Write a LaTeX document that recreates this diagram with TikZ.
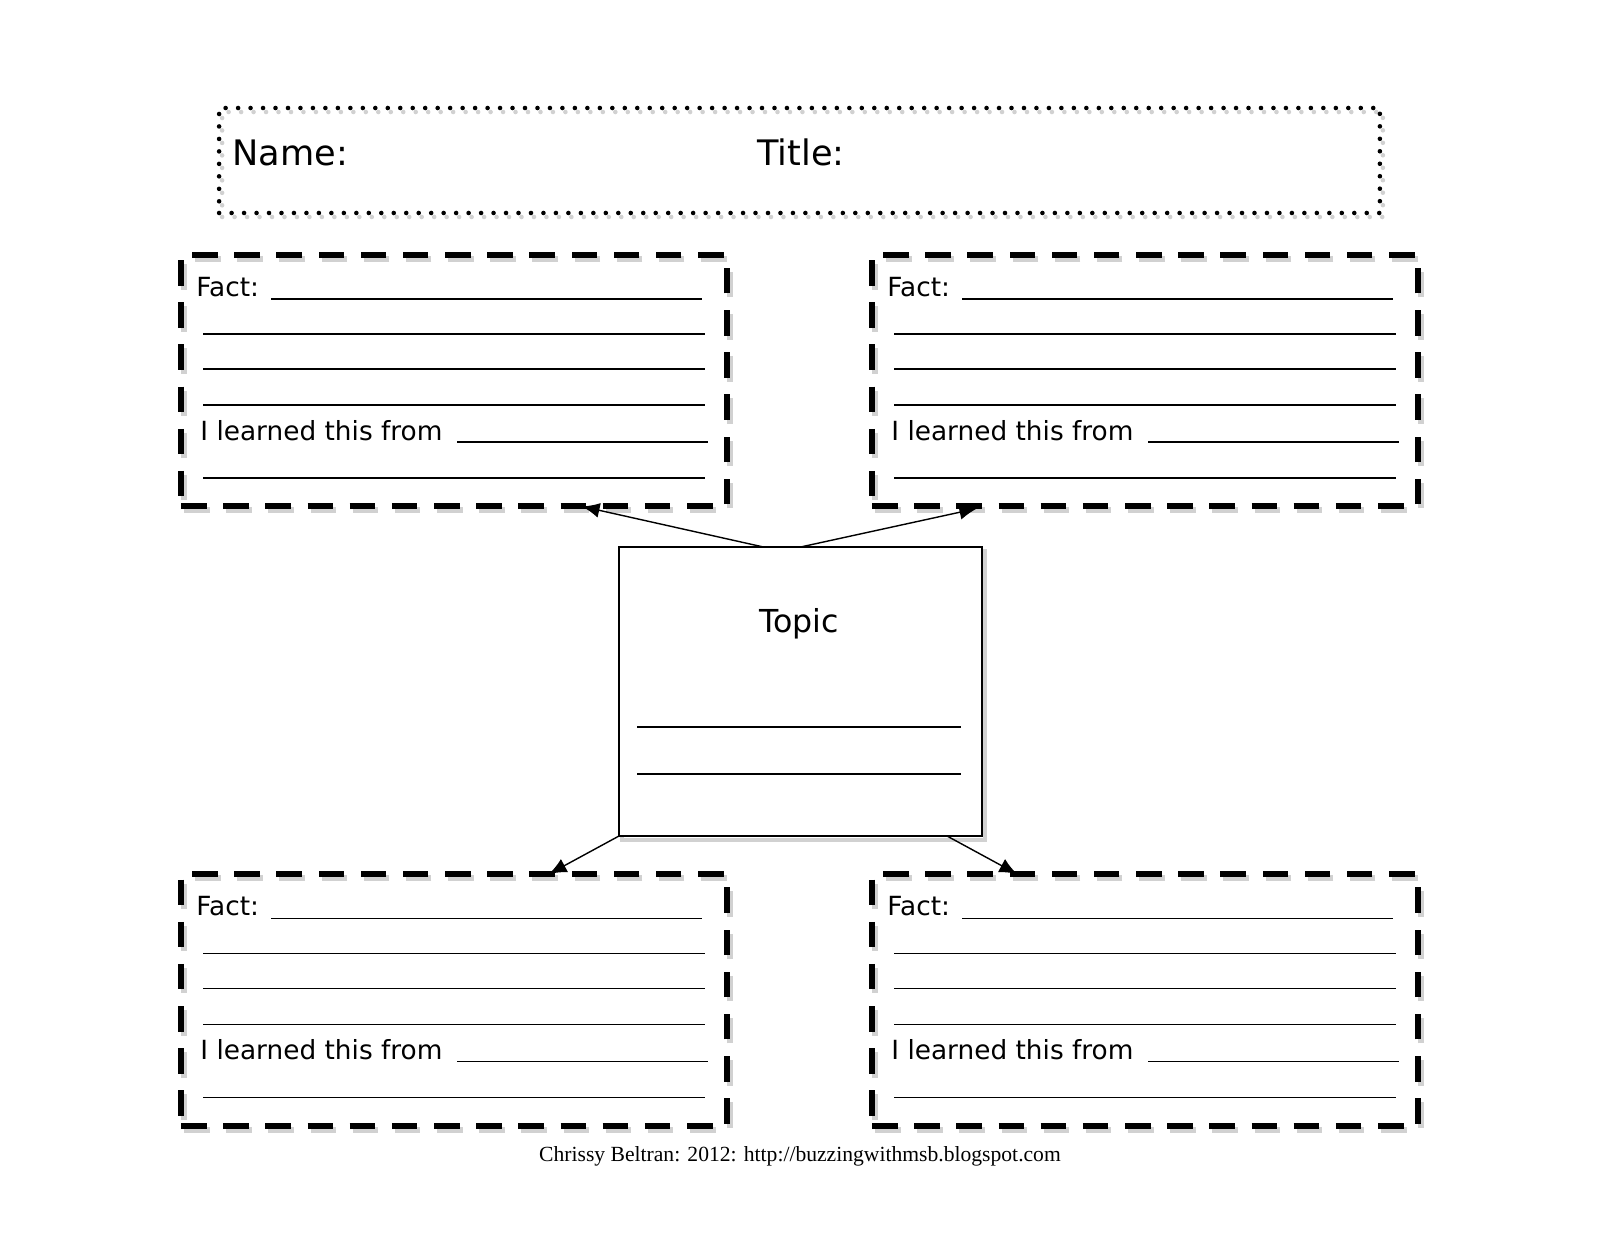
\documentclass[tikz,border=0pt]{standalone}
\usepackage{fontspec}
\setmainfont{DejaVu Sans}
\newfontfamily\creditfont{Liberation Serif}
\usetikzlibrary{arrows.meta}
\usetikzlibrary{calc}

\tikzset{
  factbox/.style={draw, line width=3.4pt, dash pattern=on 14.5pt off 9.5pt,
    minimum width=10.92cm, minimum height=5.04cm, inner sep=0pt, outer sep=0pt},
  namebox/.style={draw, line width=2.6pt, line cap=round, dash pattern=on 0pt off 7.1pt,
    minimum width=23.22cm, minimum height=2.1cm, inner sep=0pt, outer sep=0pt},
  topicbox/.style={draw, line width=1.2pt, minimum width=7.26cm, minimum height=5.78cm,
    inner sep=0pt, outer sep=0pt},
  shade/.style={draw=black!18},
  ruled/.style={line width=0.9pt},
  facttext/.style={anchor=base west, inner sep=0pt, font=\fontsize{15}{18}\selectfont},
  link/.style={->, >={Latex[length=10pt,width=8.5pt]}, line width=0.8pt},
}

\begin{document}
\begin{tikzpicture}[x=0.02cm, y=-0.02cm]
    \useasboundingbox (0,0) rectangle (1600,1236);
    % Name / Title
    \node[namebox, shade] (nameshade) at (802.5,164.5) {};
    \node[namebox] (namebar) at (799.5,160.5) {};
    \node[anchor=base west, inner sep=0pt, font=\fontsize{20}{24}\selectfont] (name) at (232,166) {Name:};
    \node[anchor=base west, inner sep=0pt, font=\fontsize{20}{24}\selectfont] (title) at (757,166) {Title:};
    % the four fact boxes
    \foreach \n/\cx/\cy in {1/454/380.5, 2/1145/380.5, 3/454/1000, 4/1145/1000}{
      \node[factbox, shade] (shade\n) at (\cx+3,\cy+4) {};
      \node[factbox] (fact\n) at (\cx,\cy) {};
      \node[facttext] (fact\n-lbl) at ($(fact\n.north west)+(15,41.5)$) {Fact:};
      \draw[ruled] ($(fact\n.north west)+(90,44.5)$) -- +(431,0);
      \draw[ruled] ($(fact\n.north west)+(22,79.5)$) -- +(502,0);
      \draw[ruled] ($(fact\n.north west)+(22,114.5)$) -- +(502,0);
      \draw[ruled] ($(fact\n.north west)+(22,150.5)$) -- +(502,0);
      \node[facttext] (fact\n-src) at ($(fact\n.north west)+(19,185.5)$) {I learned this from};
      \draw[ruled] ($(fact\n.north west)+(276,187.5)$) -- +(251,0);
      \draw[ruled] ($(fact\n.north west)+(22,223.5)$) -- +(502,0);
    }
    % Topic
    \node[topicbox, draw=black!18, line width=2pt] (topicshade) at (803.5,695.5) {};
    \node[topicbox, fill=white] (topic) at (800.5,691.5) {};
    \node[anchor=base, inner sep=0pt, font=\fontsize{18}{22}\selectfont] (topiclbl) at (799,633) {Topic};
    \draw[line width=1.6pt] ($(topic.north west)+(18,180)$) -- +(324,0);
    \draw[line width=1.6pt] ($(topic.north west)+(18,227)$) -- +(324,0);
    % arrows out of the topic
    \draw[link] ($(topic.north)+(-37,0)$) -- ($(fact1.south)+(128,0)$);
    \draw[link] (topic.north) -- ($(fact2.south)+(-168,2)$);
    \draw[link] (topic.south west) -- ($(fact3.north)+(95,0)$);
    \draw[link] ($(topic.south east)+(-35,0)$) -- ($(fact4.north)+(-128,0)$);
    % credit
    \node[anchor=base, inner sep=0pt, font=\creditfont\fontsize{12.3}{14}\selectfont] (credit) at (800,1161)
      {Chrissy Beltran: 2012: http://buzzingwithmsb.blogspot.com};
\end{tikzpicture}
\end{document}
